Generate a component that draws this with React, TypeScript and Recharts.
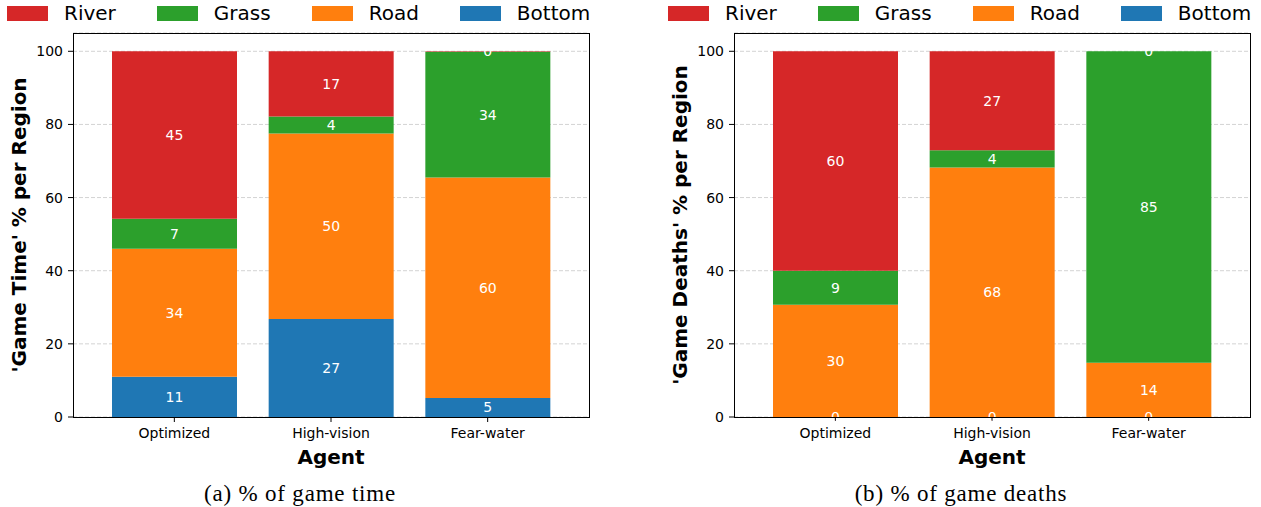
import { BarChart, Bar, XAxis, YAxis, CartesianGrid, LabelList, Label } from "recharts";

const agents = ["Optimized", "High-vision", "Fear-water"];
const yTicks = [0, 20, 40, 60, 80, 100];
const regions = ["River", "Grass", "Road", "Bottom"];

// (a) % of game time
const timeBottom = [11.0, 26.8, 5.2];
const timeRoad = [35.0, 50.7, 60.3];
const timeGrass = [8.2, 4.7, 34.4];
const timeRiver = [45.8, 17.8, 0.1];
const timeBottomLabels = [11, 27, 5];
const timeRoadLabels = [34, 50, 60];
const timeGrassLabels = [7, 4, 34];
const timeRiverLabels = [45, 17, 0];

// (b) % of game deaths (tiny values keep the "0" labels visible)
const deathBottom = [0.01, 0.01, 0.01];
const deathRoad = [30.7, 68.2, 14.8];
const deathGrass = [9.3, 4.7, 85.2];
const deathRiver = [60.0, 27.1, 0.01];
const deathBottomLabels = [0, 0, 0];
const deathRoadLabels = [30, 68, 14];
const deathGrassLabels = [9, 4, 85];
const deathRiverLabels = [60, 27, 0];

const colors: Record<string, string> = {
  River: "#d62728",
  Grass: "#2ca02c",
  Road: "#ff7f0e",
  Bottom: "#1f77b4",
};

const font = "'DejaVu Sans', sans-serif";

// plot box inside each chart
const plotLeft = 73;
const plotTop = 33;
const plotWidth = 516;
const plotHeight = 384;

function buildRows(
  bottom: number[], road: number[], grass: number[], river: number[],
  bl: number[], rl: number[], gl: number[], vl: number[],
) {
  return agents.map((agent, i) => ({
    agent,
    Bottom: bottom[i],
    Road: road[i],
    Grass: grass[i],
    River: river[i],
    BottomLabel: bl[i],
    RoadLabel: rl[i],
    GrassLabel: gl[i],
    RiverLabel: vl[i],
  }));
}

const timeRows = buildRows(timeBottom, timeRoad, timeGrass, timeRiver,
  timeBottomLabels, timeRoadLabels, timeGrassLabels, timeRiverLabels);
const deathRows = buildRows(deathBottom, deathRoad, deathGrass, deathRiver,
  deathBottomLabels, deathRoadLabels, deathGrassLabels, deathRiverLabels);

function LegendRow({ left }: { left: number }) {
  return (
    <div style={{ position: "absolute", left, top: 0, height: 27, display: "flex", alignItems: "center", fontFamily: font, fontSize: 20, color: "#000" }}>
      {regions.map((r, i) => (
        <div key={r} style={{ display: "flex", alignItems: "center", marginLeft: i === 0 ? 0 : 41 }}>
          <div style={{ width: 41, height: 15, background: colors[r], marginRight: 16 }} />
          <span style={{ lineHeight: "27px" }}>{r}</span>
        </div>
      ))}
    </div>
  );
}

function RegionChart({ left, rows, yTitle, caption }: { left: number; rows: any[]; yTitle: string; caption: string }) {
  const stack = ["Bottom", "Road", "Grass", "River"];
  return (
    <>
      <LegendRow left={left + 7} />
      <div style={{ position: "absolute", left, top: 0 }}>
        <BarChart
          width={600}
          height={480}
          data={rows}
          margin={{ top: plotTop, right: 600 - plotLeft - plotWidth, bottom: 480 - plotTop - plotHeight - 30, left: plotLeft - 60 }}
        >
          <CartesianGrid vertical={false} stroke="#d3d3d3" strokeDasharray="4 2" />
          <XAxis
            dataKey="agent"
            padding={{ left: 23, right: 23 }}
            height={30}
            tick={{ fill: "#000", fontSize: 14, fontFamily: font }}
            tickSize={5}
            tickMargin={6}
            stroke="#000"
            axisLine={false}
          >
            <Label
              content={(p: any) => {
                const vb = p.viewBox;
                return (
                  <text x={vb.x + vb.width / 2} y={vb.y + 40} textAnchor="middle" dominantBaseline="central"
                    fontFamily={font} fontSize={20} fontWeight="bold" fill="#000">
                    Agent
                  </text>
                );
              }}
            />
          </XAxis>
          <YAxis
            domain={[0, 105]}
            ticks={yTicks}
            width={60}
            tick={{ fill: "#000", fontSize: 14, fontFamily: font }}
            tickSize={5}
            tickMargin={5}
            stroke="#000"
            axisLine={false}
            allowDataOverflow
          >
            <Label
              content={(p: any) => {
                const vb = p.viewBox;
                const cx = vb.x + 6;
                const cy = vb.y + vb.height / 2;
                return (
                  <text x={cx} y={cy} transform={`rotate(-90 ${cx} ${cy})`} textAnchor="middle" dominantBaseline="central"
                    fontFamily={font} fontSize={20} fontWeight="bold" fill="#000">
                    {yTitle}
                  </text>
                );
              }}
            />
          </YAxis>
          {stack.map((s) => (
            <Bar key={s} dataKey={s} stackId="a" fill={colors[s]} barSize={125} isAnimationActive={false}>
              <LabelList dataKey={`${s}Label`} position="center" fill="#fff" fontSize={14} fontFamily={font} />
            </Bar>
          ))}
        </BarChart>
        <div
          style={{
            position: "absolute",
            left: plotLeft - 0.5,
            top: plotTop - 0.5,
            width: plotWidth + 1,
            height: plotHeight + 1,
            border: "1px solid #000",
            boxSizing: "border-box",
            pointerEvents: "none",
          }}
        />
      </div>
      <div style={{ position: "absolute", left: left, width: 600, top: 481, textAlign: "center", fontFamily: "'Liberation Serif', serif", fontSize: 23, letterSpacing: 0.8, lineHeight: "26px", color: "#000" }}>
        {caption}
      </div>
    </>
  );
}

export default function App() {
  return (
    <div style={{ position: "absolute", left: 0, top: 0, width: 1261, height: 507, background: "#fff", overflow: "hidden" }}>
      <RegionChart left={0} rows={timeRows} yTitle="'Game Time' % per Region" caption="(a) % of game time" />
      <RegionChart left={661} rows={deathRows} yTitle="'Game Deaths' % per Region" caption="(b) % of game deaths" />
    </div>
  );
}
